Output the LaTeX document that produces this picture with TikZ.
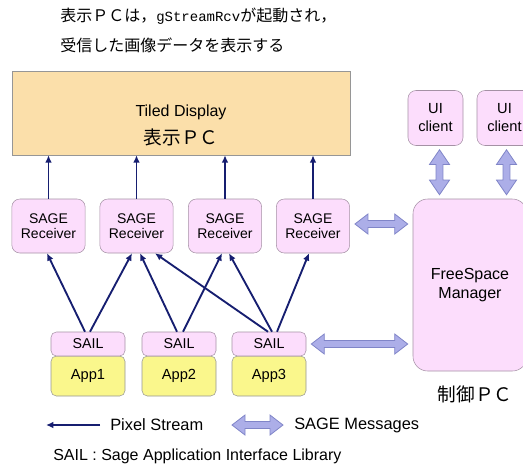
\documentclass[tikz,border=0pt]{standalone}
\usepackage{fontspec}
\setmainfont{Liberation Sans}
\newfontfamily\jp{Noto Sans CJK JP}
\newfontfamily\monofnt{Liberation Mono}
\usetikzlibrary{calc,arrows.meta}
\definecolor{pinkfill}{RGB}{252,221,252}
\definecolor{pinkdraw}{RGB}{165,145,165}
\definecolor{yelfill}{RGB}{250,247,140}
\definecolor{orfill}{RGB}{251,223,170}
\definecolor{ordraw}{RGB}{150,150,150}
\definecolor{lavfill}{RGB}{172,174,232}
\definecolor{lavdraw}{RGB}{128,133,200}
\definecolor{navy}{RGB}{22,30,112}
\newcommand\fsz[2]{\fontsize{#1}{#2}\selectfont}
\newcommand\fatH[2]{%
  \draw[fatarrow] let \p1=#1, \p2=#2 in
    (\x1,\y1) -- (\x1+9.75pt,\y1+7.5pt) -- (\x1+9.75pt,\y1+2.6pt)
    -- (\x2-9.75pt,\y2+2.6pt) -- (\x2-9.75pt,\y2+7.5pt) -- (\x2,\y2)
    -- (\x2-9.75pt,\y2-7.5pt) -- (\x2-9.75pt,\y2-2.6pt)
    -- (\x1+9.75pt,\y1-2.6pt) -- (\x1+9.75pt,\y1-7.5pt) -- cycle;}
\newcommand\fatV[2]{%
  \draw[fatarrow] let \p1=#1, \p2=#2 in
    (\x1,\y1) -- (\x1+7.5pt,\y1-11pt) -- (\x1+2.6pt,\y1-11pt)
    -- (\x1+2.6pt,\y2+11pt) -- (\x1+7.5pt,\y2+11pt) -- (\x1,\y2)
    -- (\x1-7.5pt,\y2+11pt) -- (\x1-2.6pt,\y2+11pt)
    -- (\x1-2.6pt,\y1-11pt) -- (\x1-7.5pt,\y1-11pt) -- cycle;}
\begin{document}
\begin{tikzpicture}[x=0.75pt,y=-0.75pt,
  pinkbox/.style={draw=pinkdraw,fill=pinkfill,rounded corners=6pt,inner sep=0pt,align=center},
  recv/.style={pinkbox,minimum width=55pt,minimum height=40.5pt,font=\fsz{10.5}{11.5}},
  uibox/.style={pinkbox,minimum width=41.25pt,minimum height=41.25pt,font=\fsz{11}{13.5}},
  sail/.style={pinkbox,rounded corners=4pt,minimum width=55.5pt,minimum height=18pt,font=\fsz{10.7}{12}},
  app/.style={draw=ordraw,fill=yelfill,rounded corners=4pt,inner sep=0pt,minimum width=55.5pt,minimum height=30pt,font=\fsz{11}{12}},
  pix/.style={draw=navy,line width=1.4pt,-{Latex[length=5.5pt,width=5pt]}},
  fatarrow/.style={draw=lavdraw,fill=lavfill,line width=0.6pt,line join=miter},
  lbl/.style={inner sep=0pt}]
\useasboundingbox (0,0) rectangle (523,468);
% top text
\node[lbl,anchor=west,font=\jp\fsz{12}{14}] (t1) at (60,16) {表示ＰＣは，{\monofnt\fsz{10.5}{14}gStreamRcv}が起動され，};
\node[lbl,anchor=west,font=\jp\fsz{12}{14}] (t2) at (60,45) {受信した画像データを表示する};
% display
\node[draw=ordraw,fill=orfill,minimum width=253.5pt,minimum height=63pt,inner sep=0pt] (disp) at (181,113) {};
\node[lbl,font=\fsz{12}{14}] (dl1) at (181,112) {Tiled Display};
\node[lbl,font=\jp\fsz{14}{16}] (dl2) at (181,137) {表示ＰＣ};
% receivers
\node[recv] (r1) at (48.5,226) {SAGE\\Receiver};
\node[recv] (r2) at (136.5,226) {SAGE\\Receiver};
\node[recv] (r3) at (225,226) {SAGE\\Receiver};
\node[recv] (r4) at (313,226) {SAGE\\Receiver};
% UI clients
\node[uibox] (u1) at (435.5,118) {UI\\client};
\node[uibox] (u2) at (504.5,118) {UI\\client};
% FreeSpace manager
\node[pinkbox,rounded corners=11pt,minimum width=85.5pt,minimum height=129pt,font=\fsz{12}{14.25}] (fsm) at (470,285) {FreeSpace\\Manager};
\node[lbl,font=\jp\fsz{14}{16}] (ctl) at (475,394) {制御ＰＣ};
% apps
\node[app] (a1) at (88,376) {App1};
\node[app] (a2) at (179,376) {App2};
\node[app] (a3) at (269,376) {App3};
\node[sail] (s1) at (88,344) {SAIL};
\node[sail] (s2) at (179,344) {SAIL};
\node[sail] (s3) at (269,344) {SAIL};
% receiver -> display
\foreach \r in {r1,r2,r3,r4}{\draw[pix] (\r.north) -- (\r.north |- disp.south);}
% pixel streams
\draw[pix] ($(s1.north)+(-3,0)$) -- ($(r1.south)+(-1.5,0)$);
\draw[pix] ($(s1.north)+(2,0)$) -- ($(r2.south)+(-4.5,0)$);
\draw[pix] ($(s2.north)+(-2,0)$) -- ($(r2.south)+(3.5,0)$);
\draw[pix] ($(s2.north)+(4,0)$) -- ($(r3.south)+(-3,0)$);
\draw[pix] ($(s3.north)+(-1,0)$) -- ($(r2.south)+(18.5,0)$);
\draw[pix] ($(s3.north)+(3,0)$) -- ($(r3.south)+(4,0)$);
\draw[pix] ($(s3.north)+(8,0)$) -- ($(r4.south)+(-4,0)$);
% SAGE messages
\fatH{($(r4.east)+(5,-2)$)}{($(r4.east -| fsm.west)+(-5,-2)$)}
\fatH{($(s3.east)+(5,0)$)}{($(s3.east -| fsm.west)+(-5,0)$)}
\fatV{($(u1.south)+(4,4)$)}{($(u1.south |- fsm.north)+(4,-4)$)}
\fatV{($(u2.south)+(2,4)$)}{($(u2.south |- fsm.north)+(2,-4)$)}
% legend
\coordinate (lp1) at (100,425);
\coordinate (lp2) at (46,425);
\draw[pix] (lp1) -- (lp2);
\node[lbl,anchor=west,font=\fsz{12.3}{14}] (lpix) at (110,425) {Pixel Stream};
\coordinate (lm1) at (232,425);
\coordinate (lm2) at (283,425);
\fatH{(lm1)}{(lm2)}
\node[lbl,anchor=west,font=\fsz{12.3}{14}] (lmsg) at (294,425) {SAGE Messages};
\node[lbl,anchor=west,font=\fsz{12}{14}] (note) at (53,456) {SAIL : Sage Application Interface Library};
\end{tikzpicture}
\end{document}
